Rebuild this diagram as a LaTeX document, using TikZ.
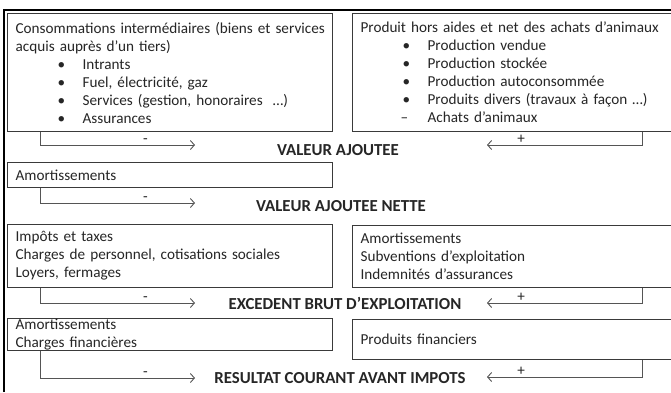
\documentclass[tikz,border=0pt]{standalone}
\usepackage{fontspec}
\setmainfont{Carlito}
\usetikzlibrary{arrows.meta}
\definecolor{txt}{HTML}{262626}
\definecolor{edge}{HTML}{3A3A3A}
\definecolor{wire}{HTML}{555555}
\newcommand{\bul}[1]{\hspace*{42pt}\makebox[25pt][l]{•}#1}
\newcommand{\dsh}[1]{\hspace*{40pt}\makebox[27pt][l]{–}#1}
\newcommand{\lin}[1]{\makebox[0pt][l]{#1}}
\begin{document}
\begin{tikzpicture}[x=1pt,y=-1pt,
  boxL/.style={draw=edge,line width=1.2pt,anchor=north west,inner xsep=8pt,inner ysep=0pt,
    align=left,text=txt,font=\fontsize{15.2}{18}\selectfont,text width=309pt,minimum width=325pt},
  boxR/.style={boxL,text width=307pt,minimum width=323pt},
  head/.style={font=\fontsize{16.8}{18}\selectfont\bfseries,text=txt,inner sep=1pt},
  conn/.style={draw=wire,line width=0.9pt,-{Straight Barb[length=4pt,width=9pt,line width=0.9pt]}},
  lab/.style={font=\fontsize{15.2}{18}\selectfont,text=txt,above,inner sep=1.5pt}]
\useasboundingbox (0,0) rectangle (671,392);
\fill[white] (0,0) rectangle (671,392);
% frame
\draw[black,line width=1.6pt] (4,392) -- (4,10) -- (672,10);
% boxes
\node[boxL,minimum height=118pt] (L1) at (7,13) {\lin{Consommations intermédiaires (biens et services}\\acquis auprès d’un tiers)\\\bul{Intrants}\\\bul{Fuel, électricité, gaz}\\\bul{Services (gestion, honoraires \ …)}\\\bul{Assurances}};
\node[boxR,minimum height=118pt] (R1) at (352,13) {\lin{Produit hors aides et net des achats d’animaux}\\\bul{Production vendue}\\\bul{Production stockée}\\\bul{Production autoconsommée}\\\bul{Produits divers (travaux à façon …)}\\\dsh{Achats d’animaux}};
\node[boxL,minimum height=25pt] (L2) at (7,162) {Amortissements};
\node[boxL,minimum height=63pt] (L3) at (7,224) {Impôts et taxes\\Charges de personnel, cotisations sociales\\Loyers, fermages};
\node[boxR,minimum height=62pt] (R3) at (352,225) {Amortissements\\Subventions d’exploitation\\Indemnités d’assurances};
\node[boxL,minimum height=32pt] (L4) at (7,318) {Amortissements\\Charges financières};
\node[boxR,minimum height=40pt] (R4) at (352,319) {Produits financiers};
% headings
\node[head] (H1) at (338,150) {VALEUR AJOUTEE};
\node[head] (H2) at (341,206) {VALEUR AJOUTEE NETTE};
\node[head] (H3) at (345,303) {EXCEDENT BRUT D’EXPLOITATION};
\node[head] (H4) at (340,378) {RESULTAT COURANT AVANT IMPOTS};
% arrow ends
\coordinate (a1) at (195,145);
\coordinate (a2) at (195,203);
\coordinate (a3) at (195,303);
\coordinate (a4) at (195,378);
\coordinate (b1) at (487,145);
\coordinate (b3) at (487,303);
\coordinate (b4) at (487,377);
% connectors
\draw[conn] ([xshift=33pt]L1.south west) |- node[lab,pos=0.84]{-} (a1);
\draw[conn] ([xshift=33pt]L2.south west) |- node[lab,pos=0.84]{-} (a2);
\draw[conn] ([xshift=33pt]L3.south west) |- node[lab,pos=0.84]{-} (a3);
\draw[conn] ([xshift=33pt]L4.south west) |- node[lab,pos=0.84]{-} (a4);
\draw[conn] ([xshift=290pt]R1.south west) |- node[lab,pos=0.89]{+} (b1);
\draw[conn] ([xshift=290pt]R3.south west) |- node[lab,pos=0.89]{+} (b3);
\draw[conn] ([xshift=290pt]R4.south west) |- node[lab,pos=0.89]{+} (b4);
\end{tikzpicture}
\end{document}
